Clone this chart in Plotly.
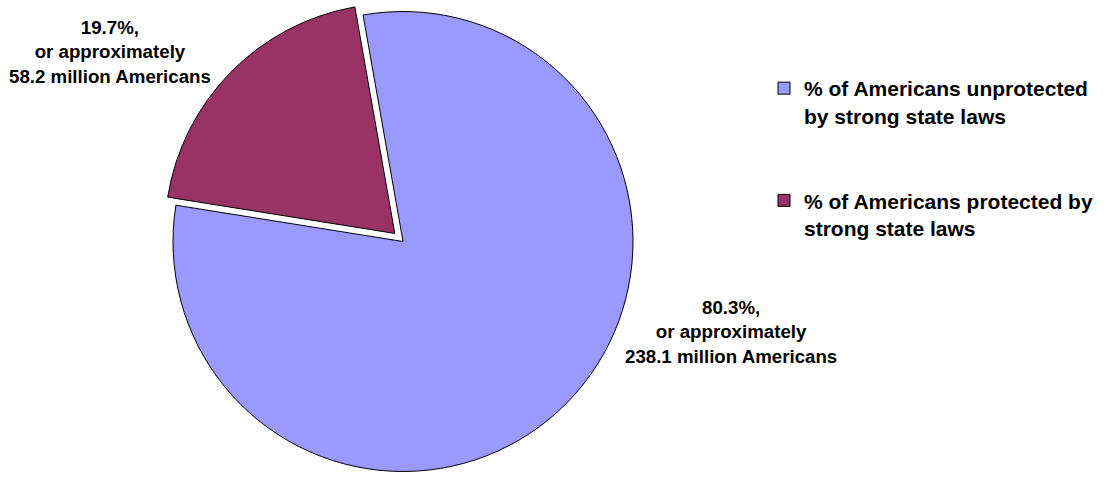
import plotly.graph_objects as go

categories = ["% of Americans unprotected<br>by strong state laws",
              "% of Americans protected by<br>strong state laws"]
percent = [80.3, 19.7]
millions = [238.1, 58.2]
colors = ["#9999FF", "#993366"]

FONT = "Liberation Sans, Arial, sans-serif"

legend_labels = [c + "<br> <br> " for c in categories]

fig = go.Figure()
fig.add_trace(go.Pie(
    labels=legend_labels,
    values=percent,
    sort=False,
    direction="clockwise",
    rotation=-10,
    pull=[0, 0.05],
    marker=dict(colors=colors, line=dict(color="black", width=1)),
    textinfo="none",
    hoverinfo="label+percent",
    domain=dict(x=[(403 - 241.5) / 1115, (403 + 241.5) / 1115], y=[0, 1]),
))

label_pos = [(731 / 1115, 1 - 332 / 483), (110 / 1115, 1 - 52 / 483)]
for (x, y), p, m in zip(label_pos, percent, millions):
    fig.add_annotation(
        x=x, y=y, xref="paper", yref="paper",
        text=f"{p}%,<br>or approximately<br>{m} million Americans",
        showarrow=False, xanchor="center", yanchor="middle",
        font=dict(family=FONT, size=18.7, color="black", weight="bold"),
    )

fig.update_layout(
    width=1115, height=483,
    margin=dict(l=0, r=0, t=0, b=0),
    paper_bgcolor="white", plot_bgcolor="white",
    showlegend=True,
    legend=dict(
        x=764 / 1115, y=1 - 68 / 483, xanchor="left", yanchor="top",
        font=dict(family=FONT, size=21, color="black", weight="bold"),
        valign="top", bgcolor="rgba(0,0,0,0)",
    ),
)

fig.write_html("out.html")
